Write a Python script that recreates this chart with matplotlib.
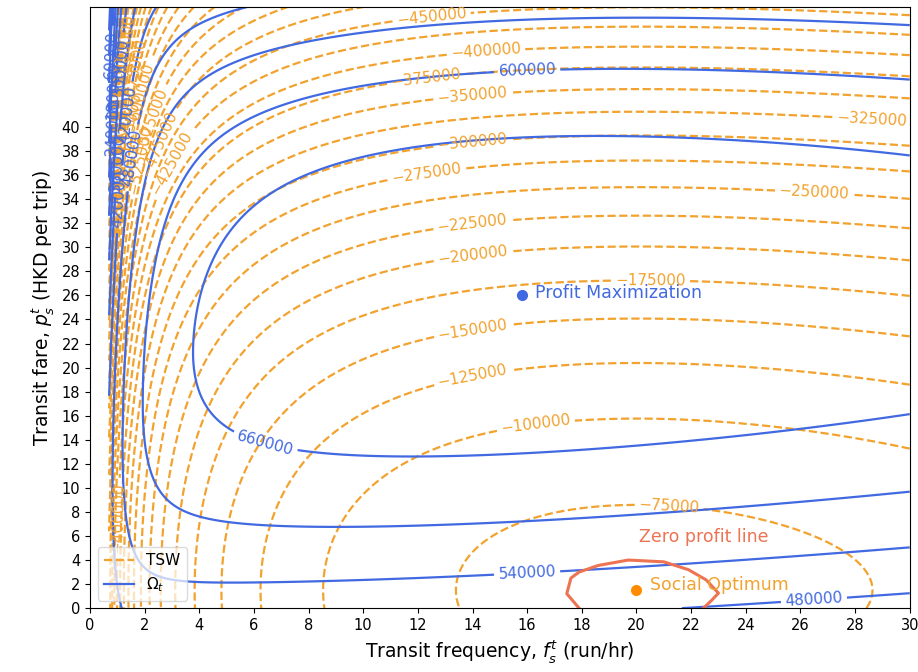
import numpy as np
import matplotlib
matplotlib.use("Agg")
import matplotlib.pyplot as plt

# grid: transit frequency (run/hr) x transit fare (HKD per trip)
freq = np.linspace(0.7, 30, 400)
fare = np.linspace(0, 50, 400)

# contour levels
tsw_levels = np.arange(-1000000, -50000, 25000)
omega_levels = np.arange(-300000, 700000, 60000)

# TSW surface parameters (fitted by eye to the reference)
tsw_const, tsw_log, tsw_lin, tsw_inv = -252150, 99880, 5344, 139800
tsw_curv, tsw_curv_inv, tsw_best_fare = 163, 100, 1.5

# Omega_t surface parameters
om_const, om_log, om_lin, om_inv = 620250, 62930, 4395, 102700
om_fare_top, om_fare_shift = 28.05, 32.4
om_curv_low, om_curv_high, om_tau, om_curv_inv = 330, 345, 3.27, 150

# marked points
profit_max = (15.8, 26.0)
social_opt = (20.0, 1.5)

# zero profit line (traced)
zp_freq = [17.9, 17.45, 17.6, 17.9, 18.6, 19.7, 21.0, 21.9, 22.55, 23.0, 22.75, 22.45]
zp_fare = [0.0, 1.2, 2.5, 3.0, 3.55, 4.0, 3.85, 3.2, 2.35, 1.25, 0.65, 0.0]

# where the contour labels sit in the reference
tsw_label_pos = [(12.5, 49.2), (14.5, 46.0), (12.3, 44.0), (14.0, 42.5),
                 (28.6, 40.4), (14.0, 38.7), (12.3, 36.2), (26.5, 34.3),
                 (14.0, 31.8), (14.0, 29.4), (20.5, 26.3), (14.0, 23.3),
                 (14.0, 19.3), (16.3, 15.5), (21.2, 8.5), (1.05, 7.5),
                 (1.3, 46.5), (1.6, 44.5), (1.9, 42.5), (2.2, 40.5),
                 (2.6, 38.5), (3.0, 37.0), (1.5, 40.0), (1.8, 37.5)]
omega_label_pos = [(16.0, 44.8), (6.5, 14.5), (16.0, 2.8), (26.5, 0.5),
                   (0.8, 46.0), (0.85, 43.0), (0.9, 40.0), (0.95, 37.0),
                   (1.0, 34.0), (1.2, 45.0), (1.3, 41.0), (1.4, 37.5)]

F, P = np.meshgrid(freq, fare)

A = tsw_const + tsw_log * np.log(F) - tsw_lin * F - tsw_inv / F
C = tsw_curv + tsw_curv_inv / F**2
TSW = A - C * (P - tsw_best_fare) ** 2

M = om_const + om_log * np.log(F) - om_lin * F - om_inv / F
p0 = om_fare_top - om_fare_shift / (F + 1)
k_high = om_curv_high * (1 - np.exp(-F / om_tau)) + om_curv_inv / F**2
K = np.where(P < p0, om_curv_low, k_high)
OMEGA = M - K * (P - p0) ** 2

orange = "#F2A22E"
blue = "#4169E1"
coral = "#EE7352"


def fmt(v):
    return f"{v:.0f}".replace("-", "\u2212")


fig = plt.figure(figsize=(9.18, 6.72), dpi=100)
ax = fig.add_axes([0.098, 0.095, 0.893, 0.895])

cs1 = ax.contour(F, P, TSW, levels=tsw_levels, colors=orange,
                 linestyles="dashed", linewidths=1.6)
ax.clabel(cs1, manual=tsw_label_pos, inline=True, fontsize=11, fmt=fmt)
cs2 = ax.contour(F, P, OMEGA, levels=omega_levels, colors=blue,
                 linestyles="solid", linewidths=1.6)
ax.clabel(cs2, manual=omega_label_pos, inline=True, fontsize=11, fmt=fmt)

ax.plot(zp_freq, zp_fare, color=coral, lw=2.2)
ax.text(20.1, 5.9, "Zero profit line", color=coral, fontsize=12.5, va="center")

ax.plot(*profit_max, "o", color=blue, ms=7)
ax.text(profit_max[0] + 0.5, profit_max[1] + 0.2, "Profit Maximization",
        color=blue, fontsize=12.5, va="center")
ax.plot(*social_opt, "o", color="#FF8C00", ms=7)
ax.text(social_opt[0] + 0.5, social_opt[1] + 0.4, "Social Optimum",
        color=orange, fontsize=12.5, va="center")

h1, = ax.plot([], [], color=orange, ls="--", lw=1.6, label="TSW")
h2, = ax.plot([], [], color=blue, lw=1.6, label=r"$\Omega_t$")
ax.legend(handles=[h1, h2], loc="lower left", fontsize=11, framealpha=0.7)

ax.set_xlim(0, 30)
ax.set_ylim(0, 50)
ax.set_xticks(np.arange(0, 31, 2))
ax.set_yticks(np.arange(0, 41, 2))
ax.tick_params(labelsize=10.5)
ax.set_xlabel(r"Transit frequency, $f_s^t$ (run/hr)", fontsize=13.5)
ax.set_ylabel(r"Transit fare, $p_s^t$ (HKD per trip)", fontsize=13.5)

fig.savefig("out.png", dpi=100)
